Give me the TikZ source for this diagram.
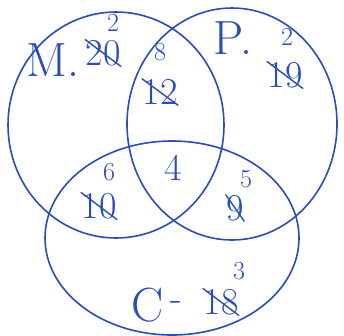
\documentclass[tikz,border=0pt]{standalone}
\usetikzlibrary{shapes.geometric}
\definecolor{ink}{RGB}{40,75,190}
\tikzset{
  setring/.style={draw=ink,ellipse,line width=1.6pt,inner sep=0pt},
  setname/.style={text=ink,font=\fontsize{48}{50}\selectfont},
  count/.style={text=ink,font=\fontsize{38}{40}\selectfont,inner sep=1pt},
  newcount/.style={text=ink,font=\fontsize{26}{28}\selectfont,inner sep=0pt},
  crossed/.style={count,path picture={\draw[ink,line width=1.4pt]
    (path picture bounding box.north west) -- (path picture bounding box.south east);}}
}
\begin{document}
\begin{tikzpicture}[x=1pt,y=-1pt]
  \useasboundingbox (0,0) rectangle (344,335);
  % Sets
  \node[setring,minimum width=216pt,minimum height=226pt] (setM) at (116,125) {};
  \node[setring,minimum width=210pt,minimum height=232pt] (setP) at (232,124) {};
  \node[setring,minimum width=254pt,minimum height=194pt] (setC) at (172,238) {};
  % Names
  \node[setname] (nameM) at (53,60) {M.};
  \node[setname] (nameP) at (233,38) {P.};
  \node[setname] (nameC) at (148,305) {C};
  \node[count] (dashC) at (176,306) {-};
  % Counts, old ones crossed out
  \node[crossed] (oldM) at (103,53) {20};
  \node[newcount] (newM) at (113,23) {2};
  \node[crossed] (oldMP) at (160,92) {12};
  \node[newcount] (newMP) at (160,52) {8};
  \node[crossed] (oldP) at (285,75) {19};
  \node[newcount] (newP) at (287,37) {2};
  \node[count] (allMPC) at (173,168) {4};
  \node[crossed] (oldMC) at (99,206) {10};
  \node[newcount] (newMC) at (109,172) {6};
  \node[crossed] (oldPC) at (235,208) {9};
  \node[newcount] (newPC) at (246,179) {5};
  \node[crossed] (oldC) at (221,302) {18};
  \node[newcount] (newC) at (239,271) {3};
\end{tikzpicture}
\end{document}
